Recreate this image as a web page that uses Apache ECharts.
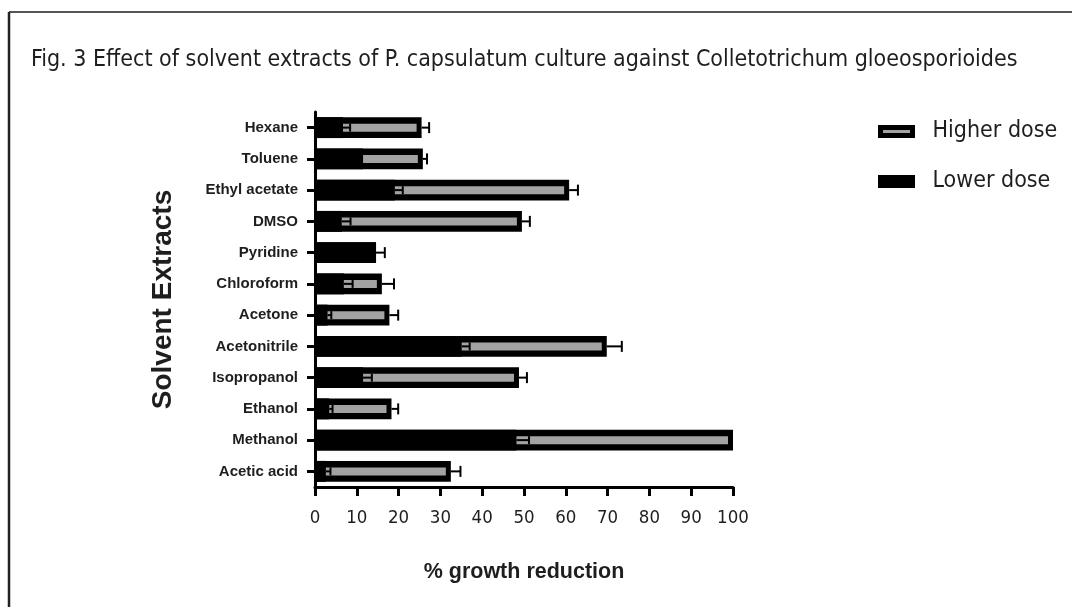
<!DOCTYPE html>
<html>
<head>
<meta charset="utf-8">
<script src="https://cdn.jsdelivr.net/npm/echarts@6/dist/echarts.min.js"></script>
<style>
  html, body { margin: 0; padding: 0; background: #fff; }
  #chart { width: 1072px; height: 607px; }
</style>
</head>
<body>
<div id="chart"></div>
<script>
// Solvent extracts, top to bottom
const categories = ['Hexane', 'Toluene', 'Ethyl acetate', 'DMSO', 'Pyridine', 'Chloroform',
  'Acetone', 'Acetonitrile', 'Isopropanol', 'Ethanol', 'Methanol', 'Acetic acid'];

// % growth reduction (mean) and error (SD) for each dose
const higherDose = [25.5, 25.8, 60.8, 49.5, 14.6, 16.0, 17.8, 69.8, 48.8, 18.3, 100, 32.5];
const higherErr  = [1.8, 1.0, 2.1, 1.9, 2.1, 2.9, 2.1, 3.6, 1.9, 1.6, 0, 2.3];
const lowerDose  = [6.7, 11.5, 19.1, 6.4, 14.6, 6.9, 3.0, 35.1, 11.5, 3.4, 48.2, 2.6];
const lowerErr   = [1.7, 0, 1.9, 2.1, 0, 2.1, 0.9, 1.9, 2.1, 0.8, 3.0, 1.1];

const xTicks = [0, 10, 20, 30, 40, 50, 60, 70, 80, 90, 100];

const NARROW = '"Liberation Sans Narrow", "DejaVu Sans Condensed", "Arial Narrow", sans-serif';
const SANS = '"Liberation Sans", Arial, sans-serif';
const GREY = '#a3a3a3';
const INK = '#1e1e1e';

const chart = echarts.init(document.getElementById('chart'), null, { renderer: 'canvas' });

function barHeight(api) { return api.size([0, 1])[1] * 0.67; }

// Higher dose: black-outlined bar with grey core
function renderHigher(params, api) {
  const v = api.value(0), c = api.value(1);
  const p0 = api.coord([0, c]);
  const p1 = api.coord([v, c]);
  const h = barHeight(api);
  const inner = 8, rightEdge = 5;
  return {
    type: 'group',
    children: [
      { type: 'rect', shape: { x: p0[0], y: p0[1] - h / 2, width: p1[0] - p0[0], height: h },
        style: { fill: '#000' } },
      { type: 'rect', shape: { x: p0[0], y: p0[1] - inner / 2, width: Math.max(0, p1[0] - p0[0] - rightEdge), height: inner },
        style: { fill: GREY } }
    ]
  };
}

// Lower dose: solid black bar
function renderLower(params, api) {
  const v = api.value(0), c = api.value(1);
  const p0 = api.coord([0, c]);
  const p1 = api.coord([v, c]);
  const h = barHeight(api);
  return { type: 'rect', shape: { x: p0[0], y: p0[1] - h / 2, width: p1[0] - p0[0], height: h },
    style: { fill: '#000' } };
}

// One-sided error bars with end cap
function errorRenderer(capHeight) {
  return function (params, api) {
    const v = api.value(0), c = api.value(1), e = api.value(2);
    if (!(e > 0)) return null;
    const a = api.coord([v, c]);
    const b = api.coord([v + e, c]);
    const st = { stroke: '#000', lineWidth: 2 };
    return {
      type: 'group',
      children: [
        { type: 'line', shape: { x1: a[0], y1: a[1], x2: b[0], y2: b[1] }, style: st },
        { type: 'line', shape: { x1: b[0], y1: b[1] - capHeight / 2, x2: b[0], y2: b[1] + capHeight / 2 }, style: st }
      ]
    };
  };
}

const higherData = higherDose.map((v, i) => [v, i]);
const lowerData = lowerDose.map((v, i) => [v, i]);
const higherErrData = higherDose.map((v, i) => [v, i, higherErr[i]]);
const lowerErrData = lowerDose.map((v, i) => [v, i, lowerErr[i]]);

const option = {
  animation: false,
  backgroundColor: '#fff',
  title: {
    text: 'Fig. 3 Effect of solvent extracts of P. capsulatum culture against Colletotrichum gloeosporioides',
    left: 26, top: 44,
    textStyle: { fontFamily: NARROW, fontSize: 23, fontWeight: 'normal', color: INK }
  },
  legend: {
    orient: 'vertical',
    left: 873, top: 115,
    itemWidth: 32, itemHeight: 8, itemGap: 27,
    icon: 'rect',
    textStyle: { fontFamily: NARROW, fontSize: 23, color: INK, padding: [0, 0, 0, 15] },
    data: [
      { name: 'Higher dose', itemStyle: { color: GREY, borderColor: '#000', borderWidth: 5 } },
      { name: 'Lower dose', itemStyle: { color: '#000', borderColor: '#000', borderWidth: 5 } }
    ]
  },
  grid: { left: 315, right: 339, top: 112, bottom: 120, containLabel: false },
  xAxis: {
    type: 'value',
    min: xTicks[0], max: xTicks[xTicks.length - 1], interval: 10,
    name: '% growth reduction',
    nameLocation: 'middle', nameGap: 74,
    nameTextStyle: { fontFamily: SANS, fontSize: 21.5, fontWeight: 'bold', color: INK },
    axisLine: { show: true, lineStyle: { color: '#000', width: 3 } },
    axisTick: { show: true, length: 9, lineStyle: { color: '#000', width: 3 } },
    axisLabel: { fontFamily: NARROW, fontSize: 18.5, color: INK, margin: 22 },
    splitLine: { show: false }
  },
  yAxis: {
    type: 'category',
    data: categories,
    inverse: true,
    name: 'Solvent Extracts',
    nameLocation: 'middle', nameGap: 138, nameRotate: 90,
    nameTextStyle: { fontFamily: SANS, fontSize: 28, fontWeight: 'bold', color: INK },
    axisLine: { show: true, lineStyle: { color: '#000', width: 3 } },
    axisTick: { show: true, alignWithLabel: true, length: 8, lineStyle: { color: '#000', width: 3 } },
    axisLabel: { fontFamily: SANS, fontSize: 15, fontWeight: 'bold', color: INK, margin: 17 },
    splitLine: { show: false }
  },
  graphic: [
    { type: 'line', shape: { x1: 9, y1: 12, x2: 1072, y2: 12 }, style: { stroke: '#555', lineWidth: 2 } },
    { type: 'line', shape: { x1: 9, y1: 12, x2: 9, y2: 607 }, style: { stroke: '#222', lineWidth: 2.5 } }
  ],
  series: [
    { name: 'Higher dose', type: 'custom', renderItem: renderHigher, data: higherData,
      encode: { x: 0, y: 1 }, itemStyle: { color: GREY, borderColor: '#000', borderWidth: 5 }, z: 2 },
    { name: 'Lower dose', type: 'custom', renderItem: renderLower, data: lowerData,
      encode: { x: 0, y: 1 }, itemStyle: { color: '#000' }, z: 3 },
    { name: 'Higher dose error', type: 'custom', renderItem: errorRenderer(11), data: higherErrData,
      encode: { x: 0, y: 1 }, z: 4, silent: true },
    { name: 'Lower dose error', type: 'custom', renderItem: errorRenderer(8), data: lowerErrData,
      encode: { x: 0, y: 1 }, z: 4, silent: true }
  ]
};

chart.setOption(option);
</script>
</body>
</html>
